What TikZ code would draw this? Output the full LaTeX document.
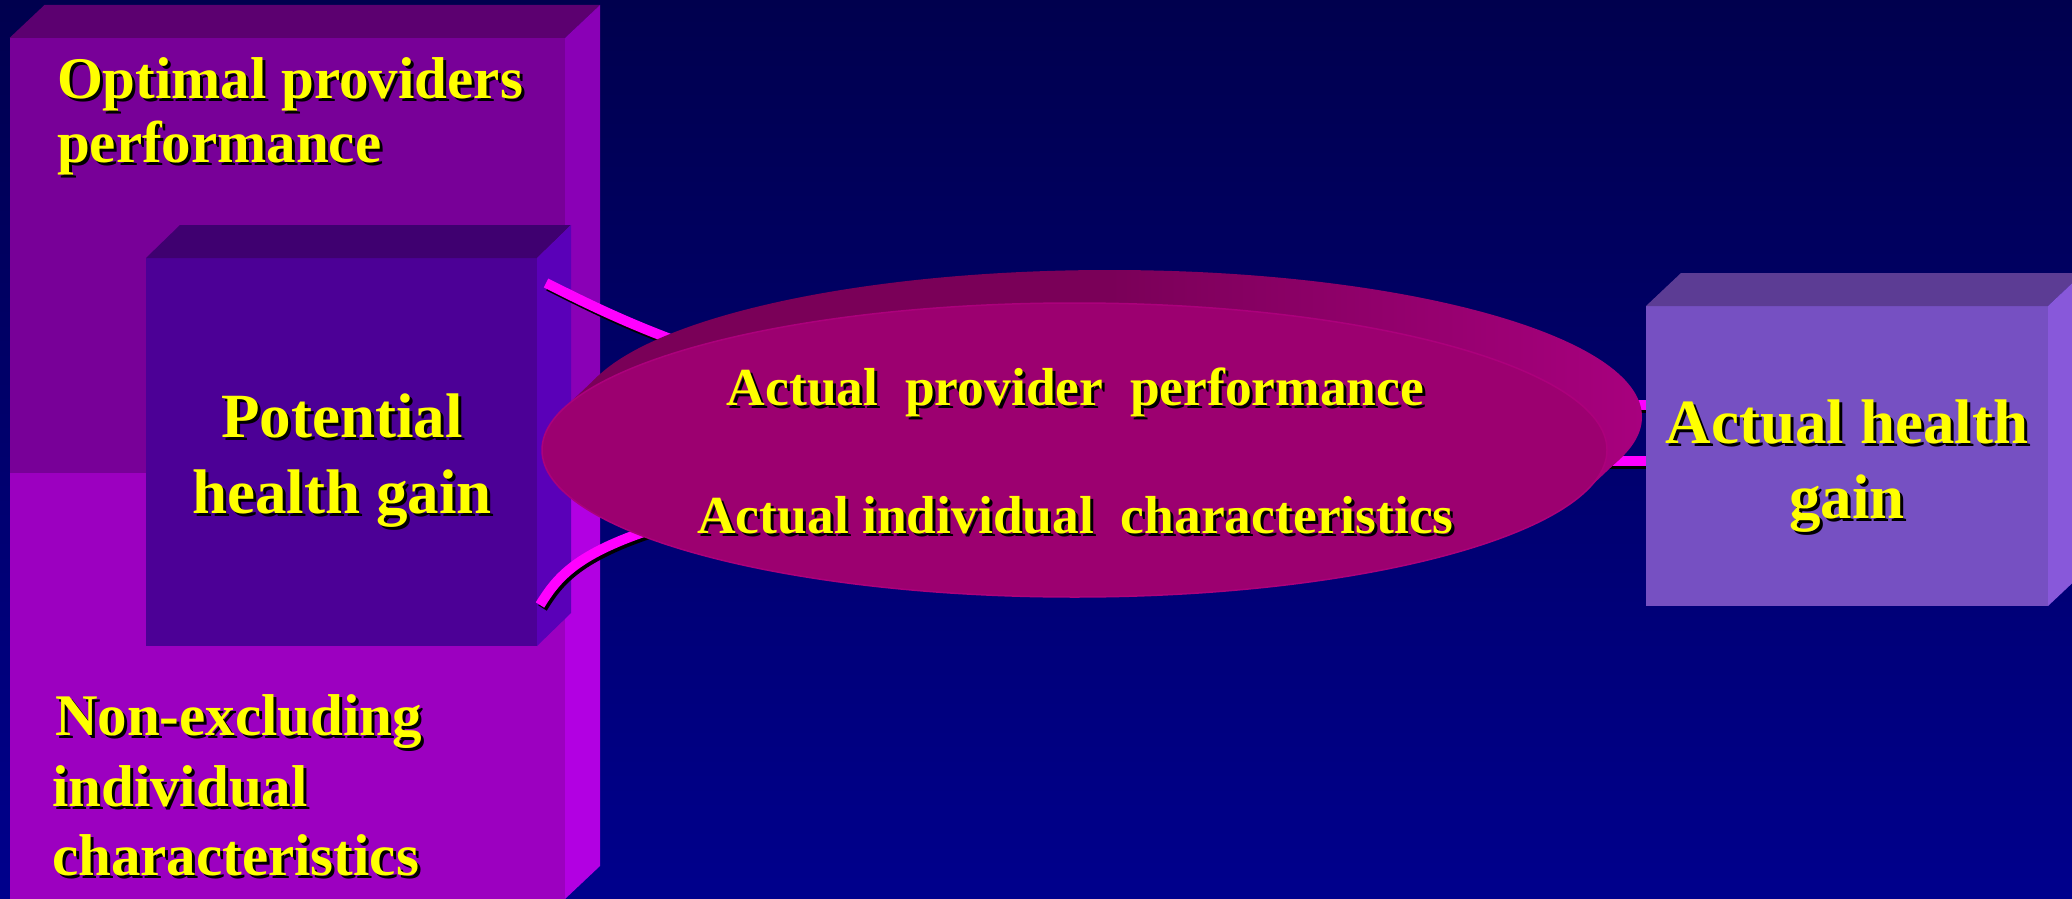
\documentclass[tikz,border=0pt]{standalone}
\usepackage{fontspec}
\setmainfont{Liberation Serif}
\usetikzlibrary{calc,shapes.geometric}

\definecolor{bgtop}{HTML}{00004E}
\definecolor{bgbot}{HTML}{00008C}
\definecolor{optfront}{HTML}{780098}
\definecolor{opttop}{HTML}{5C0070}
\definecolor{optside}{HTML}{8A00B6}
\definecolor{nexfront}{HTML}{9C00C0}
\definecolor{nexside}{HTML}{B200E2}
\definecolor{potfront}{HTML}{4C0096}
\definecolor{pottop}{HTML}{3F0070}
\definecolor{potside}{HTML}{5A00B8}
\definecolor{actfront}{HTML}{7650C2}
\definecolor{acttop}{HTML}{5C3C94}
\definecolor{actside}{HTML}{8858DA}
\definecolor{ellfront}{HTML}{9C0070}
\definecolor{ellrim}{HTML}{AC007C}
\definecolor{extA}{HTML}{7A0058}
\definecolor{extB}{HTML}{A8007E}
\definecolor{linkmag}{HTML}{FF00FF}
\definecolor{txtyellow}{HTML}{FFFF00}

% text with a black drop shadow: name, options, position, text
\newcommand\shtext[4]{%
  \node[lbl,#2,text=black,xshift=3pt,yshift=-3pt] (#1-s) at (#3) {#4};
  \node[lbl,#2] (#1) at (#3) {#4};}

% top and side faces of a block whose front face is a node
\newcommand\blockfaces[5]{% node, top colour, side colour, dx, dy
  \fill[#2] (#1.north west) -- ++(#4,-#5) -- ($(#1.north east)+(#4,-#5)$) -- (#1.north east) -- cycle;
  \fill[#3] (#1.north east) -- ++(#4,-#5) -- ($(#1.south east)+(#4,-#5)$) -- (#1.south east) -- cycle;}

\begin{document}
\begin{tikzpicture}[x=1pt,y=-1pt,
  face/.style={draw=none,inner sep=0pt,outer sep=0pt,anchor=north west},
  lbl/.style={inner sep=0pt,outer sep=0pt,text=txtyellow},
  fL/.style={font=\fontsize{59}{66}\selectfont\bfseries},
  fB/.style={font=\fontsize{63}{70}\selectfont\bfseries},
  fM/.style={font=\fontsize{53.5}{60}\selectfont\bfseries},
  conn/.style={draw=linkmag,line width=10pt},
  connshadow/.style={draw=black,line width=10pt,shorten >=2.5pt,
    transform canvas={shift={(2.5pt,-3pt)}}}]

\useasboundingbox (0,0) rectangle (2072,899);
\clip (0,0) rectangle (2072,899);
\shade[top color=bgtop,bottom color=bgbot] (0,0) rectangle (2072,899);

% left stacked block
\node[face,fill=nexfront,minimum width=555.5pt,minimum height=426pt] (nex) at (9.5,473) {};
\fill[nexside] (nex.north east) -- ++(35,-33) -- ($(nex.south east)+(35,-33)$) -- (nex.south east) -- cycle;
\node[face,fill=optfront,minimum width=555.5pt,minimum height=435pt] (opt) at (9.5,38) {};
\blockfaces{opt}{opttop}{optside}{35}{33}

% inner block
\node[face,fill=potfront,minimum width=391pt,minimum height=388pt] (pot) at (146,258) {};
\blockfaces{pot}{pottop}{potside}{34}{33}

% right block
\node[face,fill=actfront,minimum width=402pt,minimum height=300pt] (act) at (1646,306) {};
\blockfaces{act}{acttop}{actside}{35}{33}

% ellipse outline node (filled later, above the links)
\node[ellipse,draw=none,inner sep=0pt,outer sep=0pt,minimum width=1065pt,minimum height=294pt] (ell) at (1074.5,450) {};

% links
\coordinate (potU) at (546,283);
\coordinate (potL) at (540,605);
\coordinate (actU) at ([yshift=51pt]act.west);
\coordinate (actL) at ([yshift=-5pt]act.west);
\foreach \sty in {connshadow,conn}{
  \draw[\sty] (potU) .. controls (640,330) and (720,370) .. (ell.center);
  \draw[\sty] (potL) .. controls (572,553) and (612,512) .. (ell.center);
  \draw[\sty] (ell.center |- actU) -- (actU);
  \draw[\sty] (ell.center |- actL) -- (actL);
}

% ellipse depth
\shade[left color=extA,right color=extB,middle color=extA]
  (563.5,408.7) -- (598.5,375.7) -- (1620.5,458.3) -- (1585.5,491.3) -- cycle;
\shade[left color=extA,right color=extB,middle color=extA]
  (1109.5,417) ellipse [x radius=532.5,y radius=147];
% ellipse front
\path[fill=ellfront,draw=ellrim,line width=1.5pt] (ell.center) ellipse [x radius=532.5,y radius=147];

% labels
\shtext{optA}{fL,anchor=base west}{57,98}{Optimal providers}
\shtext{optB}{fL,anchor=base west}{57,162}{performance}
\shtext{nexA}{fL,anchor=base west}{55,735}{Non-excluding}
\shtext{nexB}{fL,anchor=base west}{52,806}{individual}
\shtext{nexC}{fL,anchor=base west}{52,875}{characteristics}
\shtext{potA}{fB,anchor=base}{342,437}{Potential}
\shtext{potB}{fB,anchor=base}{342,513}{health gain}
\shtext{actA}{fB,anchor=base}{1847,443}{Actual health}
\shtext{actB}{fB,anchor=base}{1847,518}{gain}
\shtext{ellA}{fM,anchor=base}{1075.5,405}{Actual\ \ provider\ \ performance}
\shtext{ellB}{fM,anchor=base}{1075.5,533}{Actual individual\ \ characteristics}
\end{tikzpicture}
\end{document}
